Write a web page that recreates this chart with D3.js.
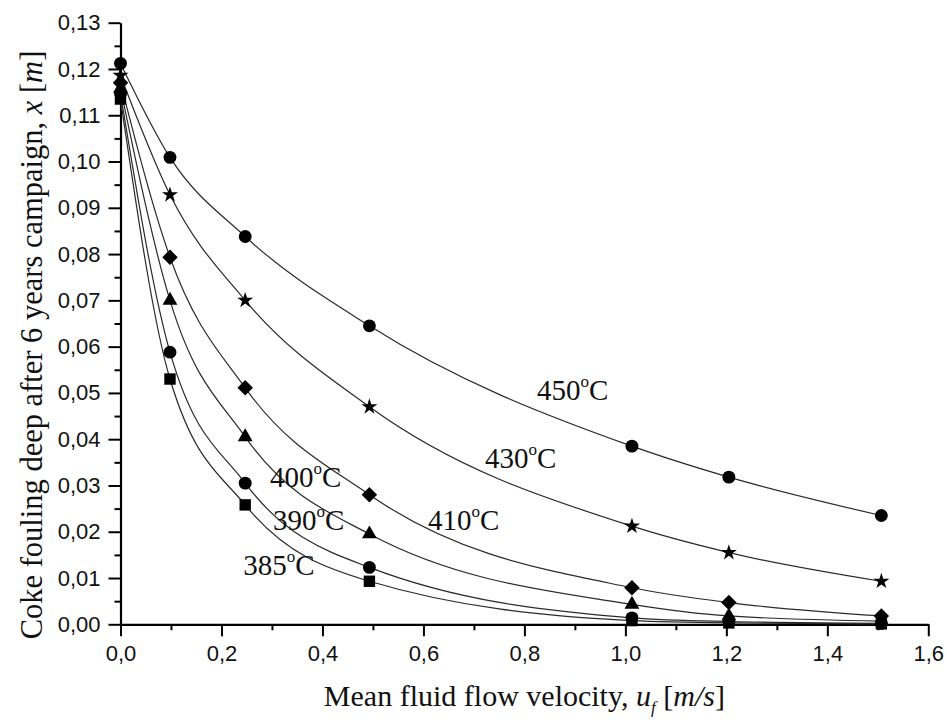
<!DOCTYPE html>
<html>
<head>
<meta charset="utf-8">
<script src="https://cdn.jsdelivr.net/npm/d3@7"></script>
<style>
  body { margin: 0; background: #fff; }
  svg { display: block; }
</style>
</head>
<body>
<div id="chart"></div>
<script>
// --- Data ---
const velocity = [0, 0.098, 0.247, 0.493, 1.013, 1.205, 1.507];

const x450 = [0.1212, 0.1009, 0.0838, 0.0645, 0.0385, 0.0318, 0.0235];
const x430 = [0.1186, 0.0928, 0.0700, 0.0470, 0.0212, 0.0155, 0.0093];
const x410 = [0.1170, 0.0793, 0.0511, 0.0280, 0.0079, 0.0047, 0.0018];
const x400 = [0.1158, 0.0700, 0.0405, 0.0195, 0.0043, 0.0018, 0.0007];
const x390 = [0.1147, 0.0588, 0.0305, 0.0123, 0.0014, 0.0006, 0.0002];
const x385 = [0.1135, 0.0530, 0.0258, 0.0093, 0.0008, 0.0003, 0.0001];

const seriesNames = ["450", "430", "410", "400", "390", "385"];
const seriesValues = [x450, x430, x410, x400, x390, x385];
const seriesMarkers = ["circle", "star", "diamond", "triangle", "circle", "square"];

// label anchors in data units (left edge, baseline)
const labelX = [0.825, 0.722, 0.609, 0.296, 0.302, 0.243];
const labelY = [0.0484, 0.0338, 0.0204, 0.0297, 0.0204, 0.0107];

const xTicks = [0, 0.2, 0.4, 0.6, 0.8, 1.0, 1.2, 1.4, 1.6];
const yTicks = [0, 0.01, 0.02, 0.03, 0.04, 0.05, 0.06, 0.07, 0.08, 0.09, 0.10, 0.11, 0.12, 0.13];

// --- Setup ---
const width = 947, height = 722;

const svg = d3.select("#chart").append("svg")
  .attr("width", width)
  .attr("height", height);

const x = d3.scaleLinear().domain([0, 1.6]).range([120.5, 928.3]);
const y = d3.scaleLinear().domain([0, 0.13]).range([624.3, 22.7]);

const comma = f => v => d3.format(f)(v).replace(".", ",");

// minor ticks first
svg.append("g")
  .attr("transform", `translate(0,${y(0)})`)
  .call(d3.axisBottom(x).tickValues(d3.range(0.1, 1.6, 0.2)).tickSize(6).tickFormat(""))
  .call(g => g.select(".domain").remove())
  .call(g => g.selectAll("line").attr("stroke-width", 2));

svg.append("g")
  .attr("transform", `translate(${x(0)},0)`)
  .call(d3.axisLeft(y).tickValues(d3.range(0.005, 0.13, 0.01)).tickSize(6).tickFormat(""))
  .call(g => g.select(".domain").remove())
  .call(g => g.selectAll("line").attr("stroke-width", 2));

// major axes
const xAxis = svg.append("g")
  .attr("transform", `translate(0,${y(0)})`)
  .call(d3.axisBottom(x).tickValues(xTicks).tickSize(12).tickSizeOuter(0)
    .tickPadding(9).tickFormat(comma(".1f")));

const yAxis = svg.append("g")
  .attr("transform", `translate(${x(0)},0)`)
  .call(d3.axisLeft(y).tickValues(yTicks).tickSize(12).tickSizeOuter(0)
    .tickPadding(8).tickFormat(comma(".2f")));

[xAxis, yAxis].forEach(g => {
  g.select(".domain").attr("stroke-width", 2.2);
  g.selectAll("line").attr("stroke-width", 2);
  g.selectAll("text")
    .attr("font-family", "'Liberation Sans', Arial, sans-serif")
    .attr("font-size", 22)
    .attr("fill", "#111");
});

// --- Curves ---
const line = d3.line()
  .x(d => x(d[0]))
  .y(d => y(d[1]))
  .curve(d3.curveMonotoneX);

seriesValues.forEach(vals => {
  const pts = velocity.map((v, i) => [v, vals[i]]);
  svg.append("path")
    .attr("d", line(pts))
    .attr("fill", "none")
    .attr("stroke", "#2a2a2a")
    .attr("stroke-width", 1.2);
});

// --- Markers ---
const symbolFor = {
  circle: d3.symbol().type(d3.symbolCircle).size(130),
  star: d3.symbol().type(d3.symbolStar).size(80),
  diamond: d3.symbol().type(d3.symbolSquare).size(120),
  triangle: d3.symbol().type(d3.symbolTriangle).size(95),
  square: d3.symbol().type(d3.symbolSquare).size(130)
};

seriesValues.forEach((vals, s) => {
  const kind = seriesMarkers[s];
  svg.append("g").selectAll("path")
    .data(velocity.map((v, i) => [v, vals[i]]))
    .enter()
    .append("path")
    .attr("d", symbolFor[kind]())
    .attr("transform", d => `translate(${x(d[0])},${y(d[1])})` + (kind === "diamond" ? " rotate(45)" : ""))
    .attr("fill", "#000");
});

// --- Temperature labels ---
seriesNames.forEach((name, i) => {
  const t = svg.append("text")
    .attr("x", x(labelX[i]))
    .attr("y", y(labelY[i]))
    .attr("font-family", "'Liberation Serif', 'Times New Roman', serif")
    .attr("font-size", 29)
    .attr("fill", "#111");
  t.append("tspan").text(name);
  t.append("tspan").attr("font-size", 17).attr("dy", -13).text("o");
  t.append("tspan").attr("dy", 13).text("C");
});

// --- Axis titles ---
const xTitle = svg.append("text")
  .attr("x", (x(0) + x(1.6)) / 2)
  .attr("y", 706)
  .attr("text-anchor", "middle")
  .attr("font-family", "'Liberation Serif', 'Times New Roman', serif")
  .attr("font-size", 30)
  .attr("fill", "#111");
xTitle.append("tspan").text("Mean fluid flow velocity, ");
xTitle.append("tspan").attr("font-style", "italic").text("u");
xTitle.append("tspan").attr("font-style", "italic").attr("font-size", 17).attr("dy", 7).text("f");
xTitle.append("tspan").attr("dy", -7).text(" [");
xTitle.append("tspan").attr("font-style", "italic").text("m/s");
xTitle.append("tspan").text("]");

const yTitle = svg.append("text")
  .attr("transform", `translate(42,345) rotate(-90)`)
  .attr("text-anchor", "middle")
  .attr("font-family", "'Liberation Serif', 'Times New Roman', serif")
  .attr("font-size", 30.5)
  .attr("fill", "#111");
yTitle.append("tspan").text("Coke fouling deep after 6 years campaign, ");
yTitle.append("tspan").attr("font-style", "italic").text("x");
yTitle.append("tspan").text(" [");
yTitle.append("tspan").attr("font-style", "italic").text("m");
yTitle.append("tspan").text("]");
</script>
</body>
</html>
